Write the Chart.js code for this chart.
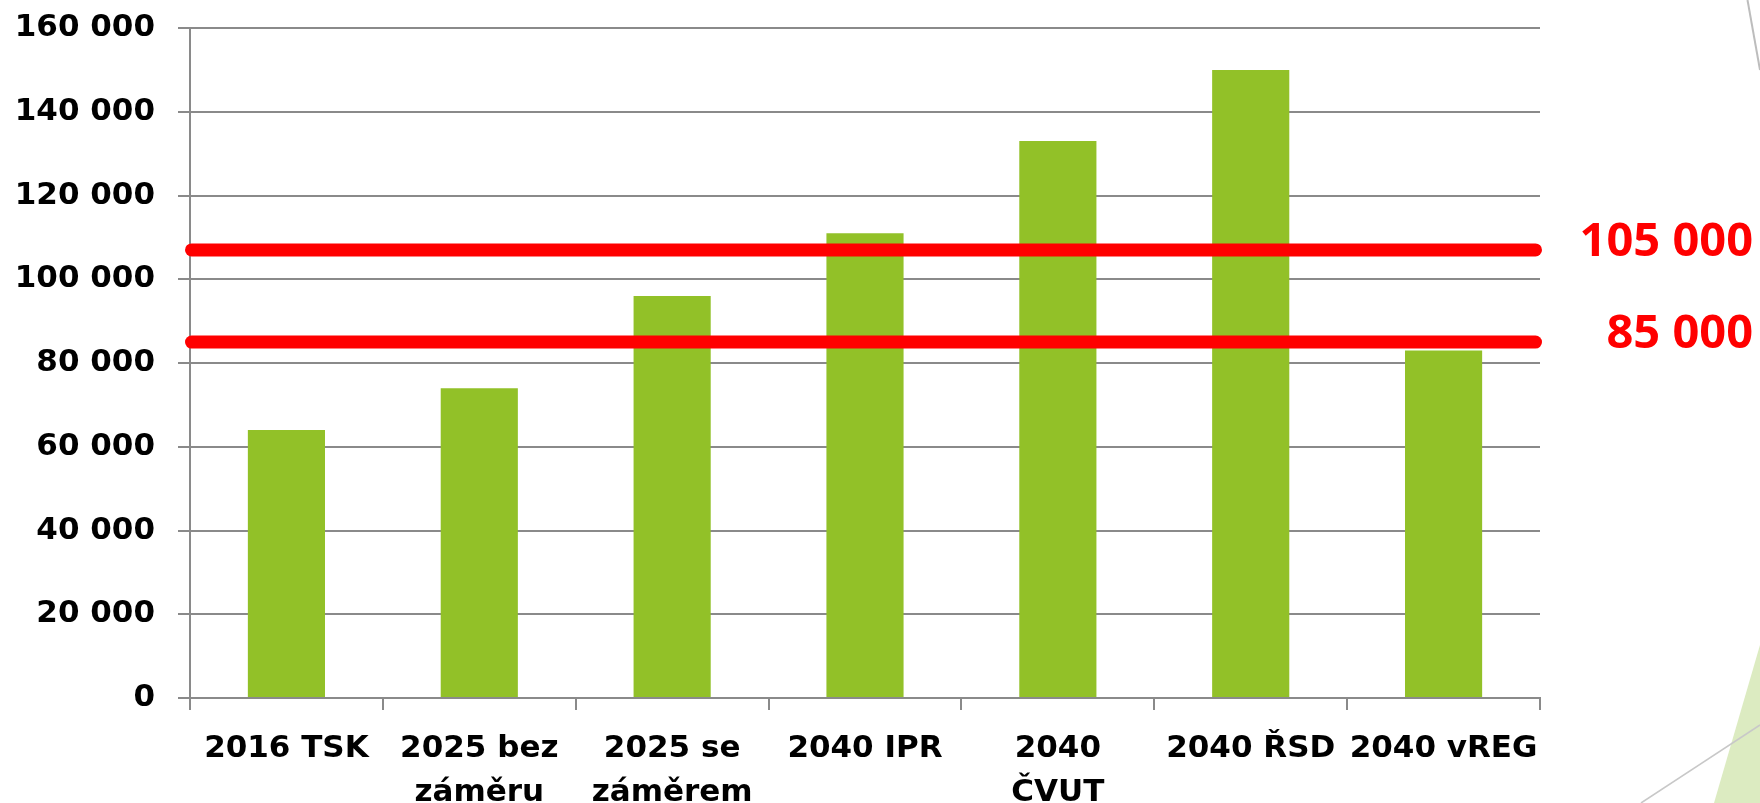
<!DOCTYPE html>
<html><head><meta charset="utf-8">
<script src="https://cdn.jsdelivr.net/npm/chart.js@4/dist/chart.umd.min.js"></script>
<style>
html,body{margin:0;padding:0;background:#fff;overflow:hidden}
#wrap{position:relative;width:1760px;height:803px}
#wrap svg,#wrap canvas{position:absolute;left:0;top:0}
</style></head><body>
<div id="wrap">
<svg width="1760" height="803">
<polygon points="1760,645 1714,803 1760,803" fill="#dcebc1"/>
<line x1="1760" y1="725" x2="1641" y2="803" stroke="#c8c8c8" stroke-width="1.6"/>
<line x1="1747.5" y1="0" x2="1760" y2="70" stroke="#bdbdbd" stroke-width="2"/>
</svg>
<canvas id="c" width="1760" height="803"></canvas>
</div>
<script>
const categories = [
  ['2016 TSK'],
  ['2025 bez', 'záměru'],
  ['2025 se', 'záměrem'],
  ['2040 IPR'],
  ['2040', 'ČVUT'],
  ['2040 ŘSD'],
  ['2040 vREG']
];
const values = [64000, 74000, 96000, 111000, 133000, 150000, 83000];
const thresholdValues = [107000, 85000];
const thresholdLabels = ['105 000', '85 000'];
const yMin = 0, yMax = 160000, yStep = 20000;

function fmt(v){ return String(v).replace(/\B(?=(\d{3})+(?!\d))/g, ' '); }

const GRID = '#8a8a8a';
const yFont = {family: 'DejaVu Sans', weight: 'bold', size: 31, lineHeight: 1.24};
const xFont = {family: 'DejaVu Sans', weight: 'bold', size: 31, lineHeight: 1.45};

const thresholdPlugin = {
  id: 'thresholds',
  afterDatasetsDraw(chart){
    const ctx = chart.ctx, y = chart.scales.y, a = chart.chartArea;
    ctx.save();
    ctx.strokeStyle = '#ff0000';
    ctx.lineWidth = 13;
    ctx.lineCap = 'round';
    thresholdValues.forEach((v) => {
      const py = y.getPixelForValue(v);
      ctx.beginPath();
      ctx.moveTo(a.left + 1.5, py);
      ctx.lineTo(a.right - 4.5, py);
      ctx.stroke();
    });
    ctx.fillStyle = '#ff0000';
    ctx.font = 'bold 47px "Open Sans"';
    ctx.textAlign = 'right';
    ctx.textBaseline = 'middle';
    thresholdValues.forEach((v, i) => {
      const py = y.getPixelForValue(v);
      ctx.fillText(thresholdLabels[i], 1753, py - 7);
    });
    ctx.restore();
  }
};

new Chart(document.getElementById('c'), {
  type: 'bar',
  data: {
    labels: categories,
    datasets: [{
      data: values,
      backgroundColor: '#92c128',
      borderWidth: 0,
      barPercentage: 0.4,
      categoryPercentage: 1.0
    }]
  },
  options: {
    responsive: false,
    devicePixelRatio: 1,
    animation: false,
    layout: {padding: {left: 0, right: 220, top: 28, bottom: 0}},
    plugins: {legend: {display: false}, tooltip: {enabled: false}},
    scales: {
      x: {
        grid: {display: true, drawOnChartArea: false, drawTicks: true, tickLength: 12, color: GRID, lineWidth: 2, offset: true},
        border: {display: true, color: GRID, width: 2},
        ticks: {color: '#000', font: xFont, padding: 16, maxRotation: 0, autoSkip: false},
        afterFit(s){ s.height = 105; s.paddingLeft = 0; s.paddingRight = 0; }
      },
      y: {
        min: yMin, max: yMax,
        grid: {color: GRID, lineWidth: 2, drawTicks: true, tickLength: 12},
        border: {display: true, color: GRID, width: 2},
        ticks: {stepSize: yStep, color: '#000', font: yFont, padding: 23, callback: v => fmt(v)},
        afterFit(s){ s.width = 190; s.paddingTop = 0; s.paddingBottom = 0; }
      }
    }
  },
  plugins: [thresholdPlugin]
});
</script>
</body></html>
